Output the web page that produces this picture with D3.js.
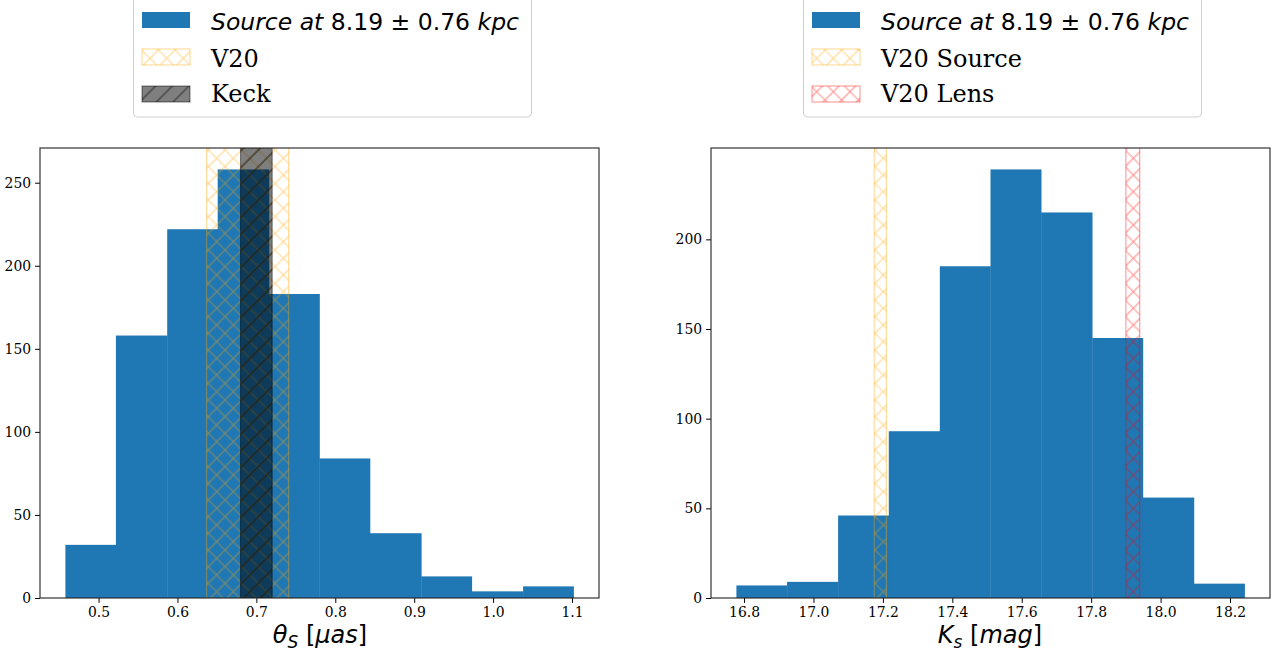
<!DOCTYPE html>
<html><head><meta charset="utf-8">
<script src="https://cdn.jsdelivr.net/npm/d3@7"></script>
<style>body{margin:0;background:#fff}svg{display:block}</style>
</head><body>
<script>
// ---- data ----
const thetaEdges = [0.458, 0.522, 0.587, 0.651, 0.716, 0.780, 0.844, 0.909, 0.973, 1.038, 1.102];
const thetaCounts = [32, 158, 222, 258, 183, 84, 39, 13, 4, 7];
const ksEdges = [16.778, 16.924, 17.071, 17.217, 17.364, 17.510, 17.656, 17.803, 17.949, 18.096, 18.242];
const ksCounts = [7, 9, 46, 93, 185, 239, 215, 145, 56, 8];
const thetaTicks = [0.5, 0.6, 0.7, 0.8, 0.9, 1.0, 1.1];
const ksTicks = [16.8, 17.0, 17.2, 17.4, 17.6, 17.8, 18.0, 18.2];
const thetaYTicks = [0, 50, 100, 150, 200, 250];
const ksYTicks = [0, 50, 100, 150, 200];
const v20Theta = [0.637, 0.741];
const keckTheta = [0.680, 0.720];
const v20SourceKs = [17.175, 17.21];
const v20LensKs = [17.90, 17.94];
const leftLegendLabels = ["V20", "Keck"];
const rightLegendLabels = ["V20 Source", "V20 Lens"];

(function () {
const W = 1279, H = 656;
const svg = d3.select("body").append("svg").attr("width", W).attr("height", H);
const defs = svg.append("defs");
const P = 100 / 6 / Math.SQRT2;
function crossPattern(id, color, op) {
  const p = defs.append("pattern").attr("id", id).attr("patternUnits", "userSpaceOnUse")
    .attr("width", P).attr("height", P).attr("patternTransform", "rotate(45)");
  p.append("path").attr("d", `M0,${P/2}H${P}M${P/2},0V${P}`)
    .attr("stroke", color).attr("stroke-opacity", op).attr("stroke-width", 1.1).attr("fill", "none");
}
function slashPattern(id, color, op) {
  const p = defs.append("pattern").attr("id", id).attr("patternUnits", "userSpaceOnUse")
    .attr("width", P).attr("height", P).attr("patternTransform", "rotate(-45)");
  p.append("path").attr("d", `M0,${P/2}H${P}`)
    .attr("stroke", color).attr("stroke-opacity", op).attr("stroke-width", 1.1).attr("fill", "none");
}
crossPattern("hx-orange", "orange", 0.45);
crossPattern("hx-red", "red", 0.45);
slashPattern("hs-black", "black", 0.6);

const serif = "DejaVu Serif, serif";
const sans = "DejaVu Sans, sans-serif";
const yTop = 148, yBot = 598;

function panel(opts) {
  const {x0, x1, edges, counts, xTicks, yTicks, fmt} = opts;
  const lo = edges[0], hi = edges[edges.length - 1], m = (hi - lo) * 0.05;
  const x = d3.scaleLinear().domain([lo - m, hi + m]).range([x0, x1]);
  const y = d3.scaleLinear().domain([0, d3.max(counts) * 1.05]).range([yBot, yTop]);
  const g = svg.append("g");
  const clip = "clip" + x0;
  defs.append("clipPath").attr("id", clip).append("rect")
    .attr("x", x0).attr("y", yTop).attr("width", x1 - x0).attr("height", yBot - yTop);
  const plot = g.append("g").attr("clip-path", `url(#${clip})`);
  plot.selectAll("rect.bar").data(counts).join("rect").attr("class", "bar")
    .attr("x", (d, i) => x(edges[i])).attr("width", (d, i) => x(edges[i + 1]) - x(edges[i]) + 0.3)
    .attr("y", d => y(d)).attr("height", d => yBot - y(d))
    .attr("fill", "#1f77b4");
  opts.spans.forEach(s => {
    if (s.fill) plot.append("rect").attr("x", x(s.r[0])).attr("width", x(s.r[1]) - x(s.r[0]))
      .attr("y", yTop).attr("height", yBot - yTop).attr("fill", s.fill).attr("fill-opacity", s.fo);
    plot.append("rect").attr("x", x(s.r[0])).attr("width", x(s.r[1]) - x(s.r[0]))
      .attr("y", yTop - 2).attr("height", yBot - yTop + 4).attr("fill", `url(#${s.hatch})`)
      .attr("stroke", s.stroke).attr("stroke-opacity", s.so).attr("stroke-width", 1);
  });
  const xa = g.append("g").attr("transform", `translate(0,${yBot})`)
    .call(d3.axisBottom(x).tickValues(xTicks).tickFormat(fmt).tickSize(4.9).tickPadding(4));
  const ya = g.append("g").attr("transform", `translate(${x0},0)`)
    .call(d3.axisLeft(y).tickValues(yTicks).tickSize(4.9).tickPadding(4));
  [xa, ya].forEach(a => {
    a.select(".domain").remove();
    a.selectAll("text").attr("font-family", serif).attr("font-size", 13.9).attr("fill", "#000");
    a.selectAll("line").attr("stroke", "#000").attr("stroke-width", 1);
  });
  g.append("rect").attr("x", x0).attr("y", yTop).attr("width", x1 - x0).attr("height", yBot - yTop)
    .attr("fill", "none").attr("stroke", "#222").attr("stroke-width", 1.1);
  return x;
}

panel({x0: 40, x1: 599, edges: thetaEdges, counts: thetaCounts, xTicks: thetaTicks, yTicks: thetaYTicks,
  fmt: d3.format(".1f"),
  spans: [{r: v20Theta, hatch: "hx-orange", stroke: "orange", so: 0.45},
          {r: keckTheta, fill: "black", fo: 0.5, hatch: "hs-black", stroke: "black", so: 0.5}]});
panel({x0: 711, x1: 1270, edges: ksEdges, counts: ksCounts, xTicks: ksTicks, yTicks: ksYTicks,
  fmt: d3.format(".1f"),
  spans: [{r: v20SourceKs, hatch: "hx-orange", stroke: "orange", so: 0.45},
          {r: v20LensKs, hatch: "hx-red", stroke: "red", so: 0.45}]});

function axLabel(cx, parts) {
  const t = svg.append("text").attr("x", cx).attr("y", 643).attr("text-anchor", "middle")
    .attr("font-family", sans).attr("font-size", 24).attr("fill", "#000");
  parts.forEach(p => {
    const s = t.append("tspan").text(p.t);
    if (p.i) s.attr("font-style", "italic");
    if (p.sub) s.attr("font-size", 17).attr("dy", 5);
    if (p.up) s.attr("dy", -5);
  });
}
axLabel(320, [{t: "θ", i: 1}, {t: "S", i: 1, sub: 1}, {t: " [", up: 1}, {t: "μas", i: 1}, {t: "]"}]);
axLabel(990, [{t: "K", i: 1}, {t: "s", i: 1, sub: 1}, {t: " [", up: 1}, {t: "mag", i: 1}, {t: "]"}]);

function legend(x0, labels, handles) {
  const g = svg.append("g");
  g.append("rect").attr("x", x0 + 0.5).attr("y", -4).attr("width", 398).attr("height", 121).attr("rx", 4)
    .attr("fill", "#fff").attr("fill-opacity", 0.8).attr("stroke", "#d0d0d0").attr("stroke-width", 1);
  const hx = x0 + 9, tx = x0 + 78;
  const rowsY = [12, 49, 86];
  const baselines = [29.5, 66.5, 101.5];
  g.append("rect").attr("x", hx).attr("y", rowsY[0]).attr("width", 48).attr("height", 16).attr("fill", "#1f77b4");
  const t0 = g.append("text").attr("x", tx).attr("y", baselines[0]).attr("font-family", sans)
    .attr("font-size", 23.5).attr("fill", "#000");
  t0.append("tspan").attr("font-style", "italic").text("Source at ");
  t0.append("tspan").text("8.19 ± 0.76 ");
  t0.append("tspan").attr("font-style", "italic").text("kpc");
  handles.forEach((h, i) => {
    const yy = rowsY[i + 1];
    if (h.fill) g.append("rect").attr("x", hx).attr("y", yy).attr("width", 48).attr("height", 16)
      .attr("fill", h.fill).attr("fill-opacity", h.fo);
    g.append("rect").attr("x", hx).attr("y", yy).attr("width", 48).attr("height", 16)
      .attr("fill", `url(#${h.hatch})`).attr("stroke", h.stroke).attr("stroke-opacity", h.so).attr("stroke-width", 1);
    g.append("text").attr("x", tx).attr("y", baselines[i + 1]).attr("font-family", serif)
      .attr("font-size", 24).attr("fill", "#000").text(labels[i]);
  });
}
legend(133, leftLegendLabels, [{hatch: "hx-orange", stroke: "orange", so: 0.45},
  {fill: "black", fo: 0.5, hatch: "hs-black", stroke: "black", so: 0.5}]);
legend(803, rightLegendLabels, [{hatch: "hx-orange", stroke: "orange", so: 0.45},
  {hatch: "hx-red", stroke: "red", so: 0.45}]);
})();
</script>
</body></html>
